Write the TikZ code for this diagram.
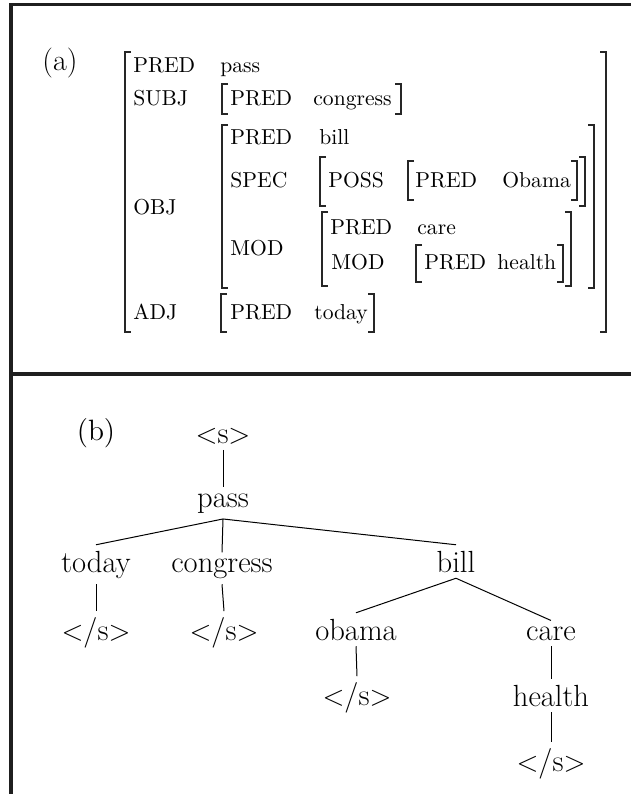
\documentclass[tikz,border=0pt]{standalone}
\newcommand\avmpair[4]{% left x, right x, top y, bottom y
  \draw[brk] (#1+6,#3) -- (#1,#3) -- (#1,#4) -- (#1+6,#4);
  \draw[brk] (#2-6,#3) -- (#2,#3) -- (#2,#4) -- (#2-6,#4);}
\begin{document}
\begin{tikzpicture}[x=0.5pt,y=-0.5pt,
  frame/.style={line width=1.8pt,color=black!88},
  brk/.style={line width=0.8pt,color=black!85},
  fs/.style={font=\fontsize{10.8}{13}\selectfont,anchor=base west,inner sep=0pt},
  tn/.style={font=\fontsize{15.3}{18}\selectfont,anchor=base,inner xsep=1pt,inner ysep=3pt,outer sep=0pt},
  edge/.style={line width=0.5pt},
  tag/.style={inner sep=0pt}]
\useasboundingbox (0,0) rectangle (631,794);

% outer frame of the two panels
\draw[frame] (11,794) -- (11,4.5) -- (631,4.5);
\draw[frame] (11,374) -- (631,374);

% ---------- (a) attribute-value matrix ----------
\node[tag,font=\fontsize{15}{18}\selectfont] (tagA) at (60,63) {(a)};

\avmpair{125}{606}{52}{332}   % whole f-structure
\avmpair{222}{401}{84}{114}   % SUBJ
\avmpair{222}{594}{125}{288}  % OBJ
\avmpair{320}{585}{157}{206}  % SPEC
\avmpair{408}{577}{161}{200}  % POSS
\avmpair{322}{571}{212}{286}  % MOD
\avmpair{416}{563}{245}{282}  % inner MOD
\avmpair{221}{374}{294}{332}  % ADJ

\node[fs] (r1a) at (133,72) {PRED};
\node[fs] (r1b) at (220,72) {pass};

\node[fs] (r2a) at (133,105) {SUBJ};
\node[fs] (r2b) at (230,105) {PRED};
\node[fs] (r2c) at (313,105) {congress};

\node[fs] (r3a) at (230,144) {PRED};
\node[fs] (r3b) at (319,144) {bill};

\node[fs] (r4a) at (230,187) {SPEC};
\node[fs] (r4b) at (328,187) {POSS};
\node[fs] (r4c) at (415,187) {PRED};
\node[fs] (r4d) at (502,187) {Obama};

\node[fs] (r5a) at (133,214) {OBJ};

\node[fs] (r6a) at (330,234) {PRED};
\node[fs] (r6b) at (417,234) {care};

\node[fs] (r7a) at (230,255) {MOD};

\node[fs] (r8a) at (331,269) {MOD};
\node[fs] (r8b) at (424,269) {PRED};
\node[fs] (r8c) at (497,269) {health};

\node[fs] (r9a) at (133,319) {ADJ};
\node[fs] (r9b) at (230,319) {PRED};
\node[fs] (r9c) at (314,319) {today};

% ---------- (b) dependency tree ----------
\node[tag,font=\fontsize{14.7}{17}\selectfont] (tagB) at (96,433) {(b)};

\node[tn] (root)     at (223,443) {\(<\)s\(>\)};
\node[tn] (pass)     at (223,507) {pass};
\node[tn] (today)    at (96,572)  {today};
\node[tn] (congress) at (222,572) {congress};
\node[tn] (bill)     at (456,572) {bill};
\node[tn] (endA)     at (96,640)  {\(<\)/s\(>\)};
\node[tn] (endB)     at (224,640) {\(<\)/s\(>\)};
\node[tn] (obama)    at (356,640) {obama};
\node[tn] (care)     at (551,640) {care};
\node[tn] (endC)     at (357,705) {\(<\)/s\(>\)};
\node[tn] (health)   at (551,706) {health};
\node[tn] (endD)     at (551,771) {\(<\)/s\(>\)};

\draw[edge] (root.south) -- (pass.north);
\draw[edge] (pass.south) -- (today.north);
\draw[edge] (pass.south) -- (congress.north);
\draw[edge] (pass.south) -- (bill.north);
\draw[edge] (today.south) -- (endA.north);
\draw[edge] (congress.south) -- (endB.north);
\draw[edge] (bill.south) -- (obama.north);
\draw[edge] (bill.south) -- (care.north);
\draw[edge] (obama.south) -- (endC.north);
\draw[edge] (care.south) -- (health.north);
\draw[edge] (health.south) -- (endD.north);
\end{tikzpicture}
\end{document}
